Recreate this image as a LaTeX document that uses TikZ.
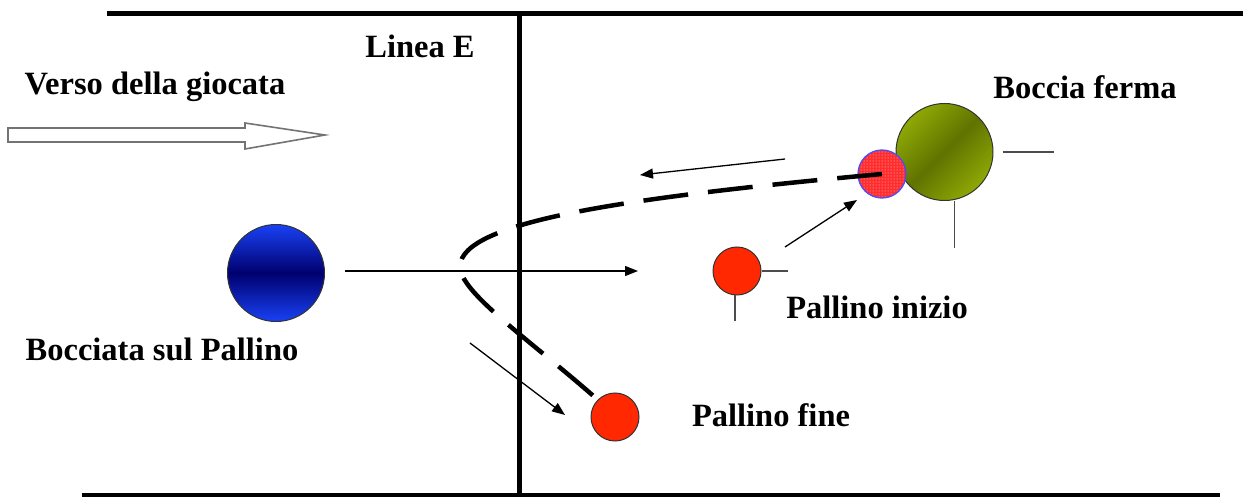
\documentclass[tikz,border=0pt]{standalone}
\usepackage{fontspec}
\setmainfont{Liberation Serif}
\usetikzlibrary{arrows.meta,patterns}
\definecolor{pallred}{RGB}{255,40,0}
\definecolor{dotred}{RGB}{255,45,45}
\definecolor{bluelight}{RGB}{25,65,245}
\definecolor{bluedark}{RGB}{0,0,110}
\definecolor{olivelight}{RGB}{190,222,10}
\definecolor{olivedark}{RGB}{96,115,0}
\pgfdeclareverticalshading{olivediag}{100bp}{color(0bp)=(olivelight); color(50bp)=(olivedark); color(100bp)=(olivelight)}
\begin{document}
\begin{tikzpicture}[x=1pt,y=-1pt,
  lbl/.style={font=\fontsize{32.5}{38}\selectfont\bfseries, inner sep=0pt},
  ball/.style={circle, draw=black!80, line width=1pt, inner sep=0pt},
  pallino/.style={ball, minimum size=48pt, fill=pallred},
  thinarrow/.style={line width=1.3pt, -{Triangle[length=13pt,width=10pt]}},
  tick/.style={line width=1.6pt, black!70},
  trail/.style={line width=4.5pt, dash pattern=on 45pt off 20pt},
  wall/.style={line width=5pt},
  hollow/.style={draw=black!55, line width=1.6pt, fill=white}]
\useasboundingbox (0,0) rectangle (1243,497);

% field borders and line E
\draw[wall] (107,14) -- (1243,14);
\draw[line width=3.5pt] (82,495) -- (1220,495);
\draw[wall] (519,14) -- (519,497);

% labels
\node[lbl] (lineaE) at (420,46) {Linea E};
\node[lbl] (verso) at (155,87) {Verso della giocata};
\node[lbl] (ferma) at (1085,87) {Boccia ferma};
\node[lbl] (bocciata) at (162,349) {Bocciata sul Pallino};
\node[lbl] (linizio) at (877,307) {Pallino inizio};
\node[lbl] (lfine) at (771,415) {Pallino fine};

% direction of play
\draw[hollow] (8,128) -- (245,128) -- (245,123) -- (325,135) -- (245,149)
  -- (245,142) -- (8,142) -- cycle;

% balls
\node[ball, minimum size=97pt, top color=bluelight,
  bottom color=bluelight, middle color=bluedark] (bocciaB) at (276,273) {};
\node[ball, minimum size=97pt, shading=olivediag, shading angle=45] (green) at (944.5,152) {};
\node[pallino] (inizio) at (737,271) {};
\node[pallino] (fine) at (615,417) {};
\node[circle, minimum size=48pt, inner sep=0pt, fill=dotred] (hit) at (882,174) {};
\fill[pattern=dots, pattern color=white!85!red] (hit) circle (23.5pt);
\draw[blue!70, line width=1.3pt] (hit.center) circle (24pt);

% marker ticks
\draw[tick] ([xshift=9pt]green.east) -- ++(51,0);
\draw[tick] ([xshift=10pt]green.south) -- ++(0,47);
\draw[tick] (inizio.east) -- ++(26,0);
\draw[tick] ([xshift=-2pt]inizio.south) -- ++(0,25);

% movement arrows
\coordinate (a1s) at (345,271); \coordinate (a1e) at (638,271);
\coordinate (a2s) at (470,343); \coordinate (a2e) at (565,415);
\coordinate (a3s) at (785,247); \coordinate (a3e) at (857,200);
\coordinate (a4s) at (785,159); \coordinate (a4e) at (640,175);
\draw[thinarrow] (a1s) -- (a1e);
\draw[thinarrow] (a2s) -- (a2e);
\draw[thinarrow] (a3s) -- (a3e);
\draw[thinarrow] (a4s) -- (a4e);

% path of the pallino
\coordinate (bend) at (460,266);
\draw[trail] (hit.center) .. controls (620,198) and (462,222) .. (bend)
  .. controls (459,292) and (530,340) .. (fine.north west);
\end{tikzpicture}
\end{document}
